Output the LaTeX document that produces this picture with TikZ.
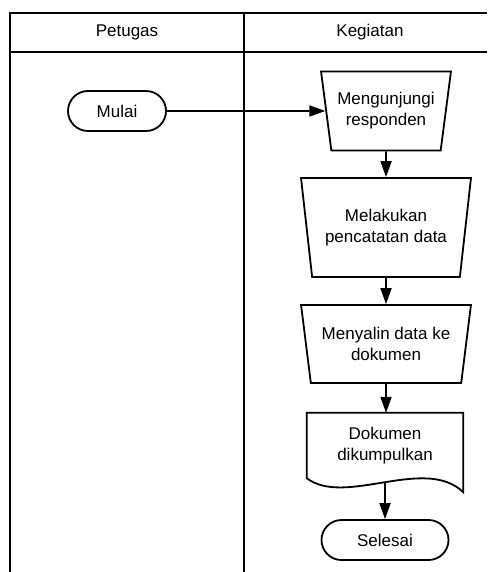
\documentclass[tikz,border=0pt]{standalone}
\usepackage{fontspec}
\setmainfont{Liberation Sans}
\usetikzlibrary{shapes.geometric,shapes.misc,arrows.meta}

\begin{document}
\begin{tikzpicture}[x=1pt, y=-1pt, font=\fontsize{17}{21}\selectfont]
        \tikzstyle{every node}=[align=center, inner sep=0pt]
        \tikzstyle{lane}=[line width=2pt]
        \tikzstyle{term}=[draw, rounded rectangle, line width=1.8pt, minimum height=40pt]
        \tikzstyle{manual}=[draw, trapezium, shape border rotate=180, trapezium angle=76, trapezium stretches=true, line width=1.8pt]
        \tikzstyle{arr}=[line width=1.8pt, -{Triangle[length=16pt, width=11pt]}]
        \useasboundingbox (0,0) rectangle (487,572);
        \draw [lane] (487,13) -- (10,13) -- (10,572);
        \draw [lane] (10,52) -- (487,52);
        \draw [lane] (244,13) -- (244,572);
        \node (petugas) at (127,32) {Petugas};
        \node (kegiatan) at (370,32) {Kegiatan};
        \node [term, minimum width=98pt] (mulai) at (117,111) {Mulai};
        \node [manual, minimum width=130pt, minimum height=79pt] (kunjung) at (386,111) {Mengunjungi\\responden};
        \node [manual, minimum width=170pt, minimum height=99pt] (catat) at (386,227.5) {Melakukan\\pencatatan data};
        \node [manual, minimum width=170pt, minimum height=78pt] (salin) at (386,344) {Menyalin data ke\\dokumen};
        \node [minimum width=156pt, minimum height=65pt] (dok) at (385,445.5) {Dokumen\\dikumpulkan};
        \draw [line width=1.8pt] (dok.north west) -- (dok.north east) -- ([yshift=-14pt]dok.south east) .. controls +(-38,-37) and +(38,29) .. (dok.south west) -- cycle;
        \node [term, minimum width=127pt] (selesai) at (385,540) {Selesai};
        \draw [arr] (mulai) -- (kunjung);
        \draw [arr] (kunjung) -- (catat);
        \draw [arr] (catat) -- (salin);
        \draw [arr] (salin.south) -- (salin.south |- dok.north);
        \draw [arr] ([yshift=-4pt]dok.south) -- (selesai);
    \end{tikzpicture}
\end{document}
